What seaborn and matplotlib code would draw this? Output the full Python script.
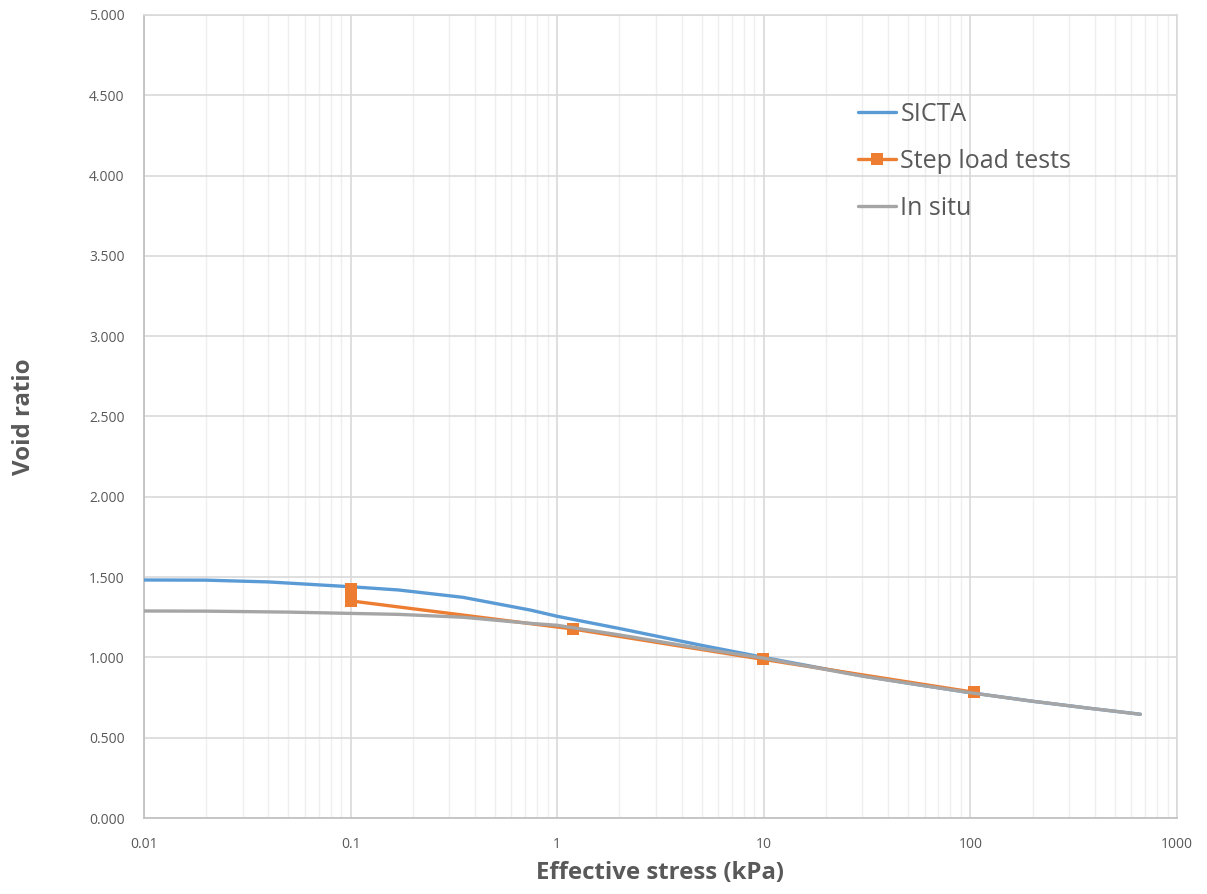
import matplotlib
matplotlib.use("Agg")
import matplotlib.pyplot as plt
import matplotlib.ticker as mticker
import seaborn as sns
import pandas as pd
import numpy as np

# ---- data ----
sicta_stress = [0.01, 0.02, 0.04, 0.1, 0.17, 0.35, 0.74, 1.0, 2.0, 5.0, 10.0, 30.0, 57.0, 100.0, 200.0, 367.0, 665.0]
sicta_void   = [1.482, 1.481, 1.470, 1.440, 1.420, 1.374, 1.295, 1.256, 1.180, 1.075, 1.000, 0.885, 0.828, 0.780, 0.727, 0.685, 0.646]

step_stress = [0.1, 0.1, 1.19, 9.9, 104.0]
step_void   = [1.423, 1.352, 1.177, 0.988, 0.783]

insitu_stress = [0.01, 0.02, 0.05, 0.1, 0.17, 0.35, 0.74, 1.0, 2.0, 5.0, 10.0, 30.0, 57.0, 100.0, 200.0, 367.0, 665.0]
insitu_void   = [1.289, 1.288, 1.282, 1.274, 1.268, 1.250, 1.212, 1.200, 1.140, 1.055, 0.995, 0.883, 0.828, 0.780, 0.727, 0.685, 0.646]

series_names = ["SICTA", "Step load tests", "In situ"]
x_ticks = [0.01, 0.1, 1, 10, 100, 1000]
x_tick_labels = ["0.01", "0.1", "1", "10", "100", "1000"]
y_ticks = [0.0, 0.5, 1.0, 1.5, 2.0, 2.5, 3.0, 3.5, 4.0, 4.5, 5.0]

BLUE = "#5B9BD5"
ORANGE = "#ED7D31"
GRAY = "#A5A5A5"
TXT = "#595959"

sns.set_style("white")
plt.rcParams["font.family"] = ["Open Sans", "DejaVu Sans"]

fig = plt.figure(figsize=(12.07, 8.94), dpi=100)
ax = fig.add_axes([144 / 1207, 1 - 818 / 894, (1177 - 144) / 1207, (818 - 15) / 894])

df_s = pd.DataFrame({"stress": sicta_stress, "void": sicta_void})
df_t = pd.DataFrame({"stress": step_stress, "void": step_void})
df_i = pd.DataFrame({"stress": insitu_stress, "void": insitu_void})

sns.lineplot(data=df_s, x="stress", y="void", ax=ax, color=BLUE, lw=2.4,
             estimator=None, sort=False, label=series_names[0], zorder=3)
sns.lineplot(data=df_t, x="stress", y="void", ax=ax, color=ORANGE, lw=2.4,
             marker="s", markersize=8, markeredgewidth=0, estimator=None,
             sort=False, label=series_names[1], zorder=4)
sns.lineplot(data=df_i, x="stress", y="void", ax=ax, color=GRAY, lw=2.4,
             estimator=None, sort=False, label=series_names[2], zorder=5)

ax.set_xscale("log")
ax.set_xlim(0.01, 1000)
ax.set_ylim(0, 5)
ax.set_xticks(x_ticks)
ax.set_xticklabels(x_tick_labels)
ax.set_yticks(y_ticks)
ax.yaxis.set_major_formatter(mticker.FormatStrFormatter("%.3f"))
ax.xaxis.set_minor_locator(mticker.LogLocator(base=10, subs=np.arange(2, 10), numticks=20))
ax.xaxis.set_minor_formatter(mticker.NullFormatter())

ax.grid(True, which="major", axis="both", color="#D9D9D9", lw=1.2, zorder=0)
ax.grid(True, which="minor", axis="x", color="#EFEFEF", lw=1.0, zorder=0)
ax.set_axisbelow(True)
for sp in ax.spines.values():
    sp.set_color("#D9D9D9")
    sp.set_linewidth(1.2)
ax.spines["left"].set_color("#BFBFBF")
ax.spines["bottom"].set_color("#BFBFBF")

ax.tick_params(axis="both", which="both", length=0, labelsize=10, labelcolor=TXT)
ax.tick_params(axis="x", pad=14)
ax.tick_params(axis="y", pad=14)

ax.set_xlabel("Effective stress (kPa)", fontsize=17.3, fontweight="bold", color=TXT, labelpad=6)
ax.set_ylabel("Void ratio", fontsize=17.3, fontweight="bold", color=TXT, labelpad=38)

leg = ax.legend(loc="upper left", bbox_to_anchor=((858 - 144) / 1033, (818 - 102) / 803),
                frameon=False, fontsize=18, handlelength=1.5, handletextpad=0.2,
                labelspacing=0.88, borderpad=0, borderaxespad=0)
for t in leg.get_texts():
    t.set_color(TXT)

fig.savefig("out.png", dpi=100)
